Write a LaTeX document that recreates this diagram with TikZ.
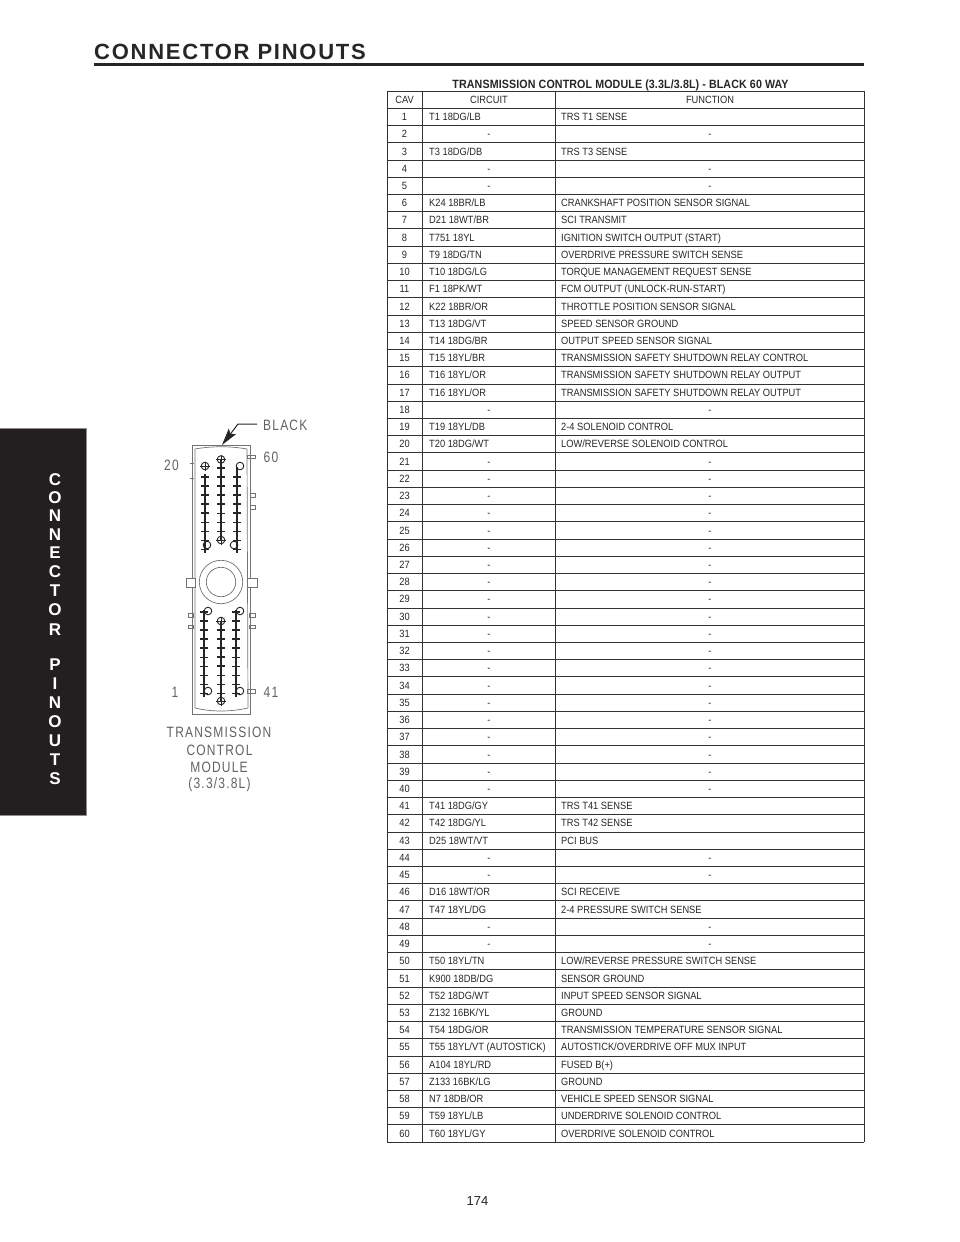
\documentclass[tikz,border=0pt]{standalone}
\usepackage{fontspec}
\setmainfont{Liberation Sans}
\newfontfamily\cellfont[FakeStretch=0.885]{Liberation Sans}
\newfontfamily\titlefont[FakeStretch=0.89,LetterSpace=1]{Liberation Sans}
\newfontfamily\headfont[LetterSpace=8]{Liberation Sans}
\newfontfamily\callfont[FakeStretch=0.8,LetterSpace=8]{Liberation Sans}
\usetikzlibrary{arrows.meta}
\definecolor{sidebar}{HTML}{231F20}
\definecolor{callgray}{gray}{0.38}
\tikzset{
  cell/.style={inner sep=0pt,text height=7.4pt,text depth=0pt,font=\cellfont\fontsize{10.5}{10.5}\selectfont,text=black!85},
  wall/.style={draw=black!55,line width=0.7pt},
  tab/.style={draw=black!55,line width=0.6pt,fill=white},
  call/.style={inner sep=0pt,text=callgray,font=\callfont\fontsize{15}{15}\selectfont},
  pinbar/.style={line width=2.2pt,black!85},
  pinhole/.style={draw=black!85,line width=0.9pt},
  side/.style={inner sep=0pt,text=white,font=\bfseries\fontsize{17}{17}\selectfont}
}
\newcommand{\rowh}{17.23}
\begin{document}
\begin{tikzpicture}[x=1pt,y=-1pt]
\useasboundingbox (0,0) rectangle (960,1242);
% page furniture
\node[inner sep=0pt,anchor=west,font=\headfont\bfseries\fontsize{22}{22}\selectfont,text=black!85] (head) at (94,52) {CONNECTOR PINOUTS};
\draw[line width=3pt,black!85] (94,64)--(864,64);
\fill[sidebar] (0,428) rectangle (86,815);
\draw[black!45,line width=0.8pt] (0,428)--(86,428)--(86,815)--(0,815);
\foreach \ltr/\ypos [count=\i] in {C/480,O/498,N/516,N/535,E/553,C/572,T/591,O/610,R/630,P/665,I/684,N/703,O/722,U/741,T/760,S/779}
  \node[side] (side\i) at (55,\ypos) {\ltr};
\node[inner sep=0pt,font=\fontsize{13}{13}\selectfont,text=black!85] (page) at (477.5,1201) {174};

% table
\node[inner sep=0pt,font=\titlefont\bfseries\fontsize{12}{12}\selectfont,text=black!85] (title) at (620.5,85) {TRANSMISSION CONTROL MODULE (3.3L/3.8L) - BLACK 60 WAY};
\foreach \n in {0,...,61}
  \draw[black!80,line width=0.7pt] (387,{91+\rowh*\n})--(864,{91+\rowh*\n});
\foreach \xcol in {387,422,555,864}
  \draw[black!80,line width=0.7pt] (\xcol,91)--(\xcol,1142);
\node[cell] (cavh) at (404.5,100) {CAV};
\node[cell] (circh) at (489,100) {CIRCUIT};
\node[cell] (funch) at (710,100) {FUNCTION};
\foreach \cav/\circuit/\func in {
  1/{T1 18DG/LB}/{TRS T1 SENSE},
  3/{T3 18DG/DB}/{TRS T3 SENSE},
  6/{K24 18BR/LB}/{CRANKSHAFT POSITION SENSOR SIGNAL},
  7/{D21 18WT/BR}/{SCI TRANSMIT},
  8/{T751 18YL}/{IGNITION SWITCH OUTPUT (START)},
  9/{T9 18DG/TN}/{OVERDRIVE PRESSURE SWITCH SENSE},
  10/{T10 18DG/LG}/{TORQUE MANAGEMENT REQUEST SENSE},
  11/{F1 18PK/WT}/{FCM OUTPUT (UNLOCK-RUN-START)},
  12/{K22 18BR/OR}/{THROTTLE POSITION SENSOR SIGNAL},
  13/{T13 18DG/VT}/{SPEED SENSOR GROUND},
  14/{T14 18DG/BR}/{OUTPUT SPEED SENSOR SIGNAL},
  15/{T15 18YL/BR}/{TRANSMISSION SAFETY SHUTDOWN RELAY CONTROL},
  16/{T16 18YL/OR}/{TRANSMISSION SAFETY SHUTDOWN RELAY OUTPUT},
  17/{T16 18YL/OR}/{TRANSMISSION SAFETY SHUTDOWN RELAY OUTPUT},
  19/{T19 18YL/DB}/{2-4 SOLENOID CONTROL},
  20/{T20 18DG/WT}/{LOW/REVERSE SOLENOID CONTROL},
  41/{T41 18DG/GY}/{TRS T41 SENSE},
  42/{T42 18DG/YL}/{TRS T42 SENSE},
  43/{D25 18WT/VT}/{PCI BUS},
  46/{D16 18WT/OR}/{SCI RECEIVE},
  47/{T47 18YL/DG}/{2-4 PRESSURE SWITCH SENSE},
  50/{T50 18YL/TN}/{LOW/REVERSE PRESSURE SWITCH SENSE},
  51/{K900 18DB/DG}/{SENSOR GROUND},
  52/{T52 18DG/WT}/{INPUT SPEED SENSOR SIGNAL},
  53/{Z132 16BK/YL}/{GROUND},
  54/{T54 18DG/OR}/{TRANSMISSION TEMPERATURE SENSOR SIGNAL},
  55/{T55 18YL/VT (AUTOSTICK)}/{AUTOSTICK/OVERDRIVE OFF MUX INPUT},
  56/{A104 18YL/RD}/{FUSED B(+)},
  57/{Z133 16BK/LG}/{GROUND},
  58/{N7 18DB/OR}/{VEHICLE SPEED SENSOR SIGNAL},
  59/{T59 18YL/LB}/{UNDERDRIVE SOLENOID CONTROL},
  60/{T60 18YL/GY}/{OVERDRIVE SOLENOID CONTROL}}{
  \node[cell] (cav\cav) at (404.5,{91+\rowh*(\cav+0.5)}) {\cav};
  \node[cell,anchor=west] (circ\cav) at (429,{91+\rowh*(\cav+0.5)}) {\circuit};
  \node[cell,anchor=west] (func\cav) at (561,{91+\rowh*(\cav+0.5)}) {\func};
}
\foreach \cav in {2,4,5,18,21,22,...,40,44,45,48,49}{
  \node[cell] (cav\cav) at (404.5,{91+\rowh*(\cav+0.5)}) {\cav};
  \node[cell] (circ\cav) at (489,{91+\rowh*(\cav+0.5)}) {-};
  \node[cell] (func\cav) at (710,{91+\rowh*(\cav+0.5)}) {-};
}

% connector body
\foreach \xa/\ya/\xb/\yb in {247/455/255/458,250/493/255/497,250/505/255/509,188/613/193/617,188/625/193/628,249/613/255/617,249/625/255/628,247/689/255/693}
  \draw[tab] (\xa,\ya) rectangle (\xb,\yb);
\draw[wall] (192,445) rectangle (250,714);
\draw[wall] (195,449) .. controls (212,446) and (230,446) .. (247,449)--(248,708) .. controls (230,712) and (212,712) .. (195,708)--cycle;
\draw[tab] (186,578) rectangle (195,587);
\draw[tab] (247,578) rectangle (257,587);
\draw[wall,fill=white] (221,582) circle (21.7);
\draw[wall] (221,582) circle (14.7);
\foreach \ytick in {463,478}
  \draw[wall] (190,\ytick)--(194,\ytick);

% pin rows
\foreach \xpin/\ytop/\ybot/\yfirst/\ticks in {205/474/553/477/8,221/459/540/468/7,237/467/553/477/8,204/610/697/612/9,221/621/701/630/7,236/610/697/612/9}{
  \draw[pinbar] (\xpin,\ytop)--(\xpin,\ybot);
  \foreach \k in {0,...,\ticks}
    \draw[line width=1.5pt,black!85] (\xpin-4,{\yfirst+9.05*\k})--(\xpin+4,{\yfirst+9.05*\k});
}
\foreach \xc/\yc in {240/466,207/545,234/545,208/611,240/611,208/691,240/691}
  \draw[pinhole] (\xc,\yc) circle (3.8);
\foreach \xc/\yc in {205/466,221/459.5,221/540,221/621,221/701}{
  \draw[pinhole] (\xc,\yc) circle (3.8);
  \draw[line width=0.8pt,black!85] (\xc-5,\yc)--(\xc+5,\yc);
  \draw[line width=0.8pt,black!85] (\xc,\yc-4.5)--(\xc,\yc+4.5);
}

% callouts
\node[call,anchor=west] (black) at (263,425) {BLACK};
\coordinate (blackend) at (257,424);
\coordinate (elbow) at (238,424);
\coordinate (tip) at (222,445);
\draw[-{Stealth[length=17pt,width=9pt,inset=3pt]},black!85,line width=1pt] (blackend)--(elbow)--(tip);
\node[call] (n20) at (171.5,465) {20};
\node[call] (n60) at (271,457) {60};
\node[call] (n1) at (175,692) {1};
\node[call] (n41) at (271,692) {41};
\node[call] (l1) at (219,732) {TRANSMISSION};
\node[call] (l2) at (219.5,750) {CONTROL};
\node[call] (l3) at (219,767) {MODULE};
\node[call] (l4) at (219.5,785) {(3.3/3.8L)};
\end{tikzpicture}
\end{document}
